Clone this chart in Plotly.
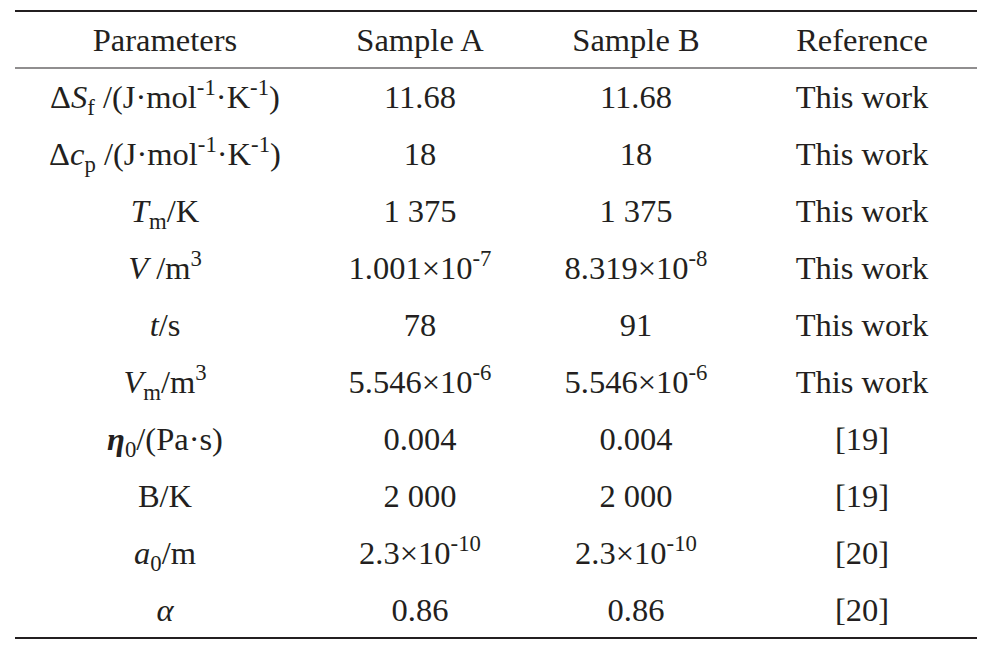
import plotly.graph_objects as go

# ── table content ────────────────────────────────────────────────────────────
HEADERS = ["Parameters", "Sample A", "Sample B", "Reference"]
PARAMS = [
    "Δ<i>S</i><sub>f</sub> /(J·mol<sup>-1</sup>·K<sup>-1</sup>)",
    "Δ<i>c</i><sub>p</sub> /(J·mol<sup>-1</sup>·K<sup>-1</sup>)",
    "<i>T</i><sub>m</sub>/K",
    "<i>V</i> /m<sup>3</sup>",
    "<i>t</i>/s",
    "<i>V</i><sub>m</sub>/m<sup>3</sup>",
    "<b><i>η</i></b><sub>0</sub>/(Pa·s)",
    "B/K",
    "<i>a</i><sub>0</sub>/m",
    "<i>α</i>",
]
SAMPLE_A = ["11.68", "18", "1 375", "1.001×10<sup>-7</sup>", "78",
            "5.546×10<sup>-6</sup>", "0.004", "2 000", "2.3×10<sup>-10</sup>", "0.86"]
SAMPLE_B = ["11.68", "18", "1 375", "8.319×10<sup>-8</sup>", "91",
            "5.546×10<sup>-6</sup>", "0.004", "2 000", "2.3×10<sup>-10</sup>", "0.86"]
REFERENCE = ["This work"] * 6 + ["[19]", "[19]", "[20]", "[20]"]

# ── layout constants (pixels of the page) ────────────────────────────────────
W, H = 995, 657
PAGE_PAD = 8                        # browser body margin round the figure
COL_X = [165, 420, 636, 862]        # column centres
LEFT, RIGHT = 15, 977               # rule extent
ROW_H = 57
TOP_RULE = 11                       # top rule; rows follow every ROW_H
TEXT_DY = 0.065                     # small optical nudge of text downwards
INK = "#231f20"
FONT = dict(family="Liberation Serif", size=32.5, color=INK)

columns = [PARAMS, SAMPLE_A, SAMPLE_B, REFERENCE]
n_rows = len(PARAMS) + 1

fig = go.Figure()
for cx, head, vals in zip(COL_X, HEADERS, columns):
    fig.add_trace(go.Scatter(
        x=[cx] * n_rows, y=[r + TEXT_DY for r in range(n_rows)],
        text=[head] + vals, mode="text", textposition="middle center",
        textfont=FONT, hoverinfo="skip", showlegend=False))

# three-line table rules, at row boundaries
for y, w in [(-0.5, 2.2), (0.5, 1.2), (n_rows - 0.5, 2.2)]:
    fig.add_shape(type="line", x0=LEFT, x1=RIGHT, y0=y, y1=y,
                  line=dict(color=INK, width=w))

# axis ranges so that row r is centred at TOP_RULE + ROW_H*(r+0.5) page px
row0 = TOP_RULE + ROW_H / 2
y_top = (PAGE_PAD - row0) / ROW_H
y_bot = (PAGE_PAD + H - row0) / ROW_H
fig.update_xaxes(range=[PAGE_PAD, W + PAGE_PAD], visible=False, fixedrange=True)
fig.update_yaxes(range=[y_bot, y_top], visible=False, fixedrange=True)
fig.update_layout(width=W, height=H, margin=dict(l=0, r=0, t=0, b=0),
                  paper_bgcolor="white", plot_bgcolor="white")
fig.write_html("out.html")
